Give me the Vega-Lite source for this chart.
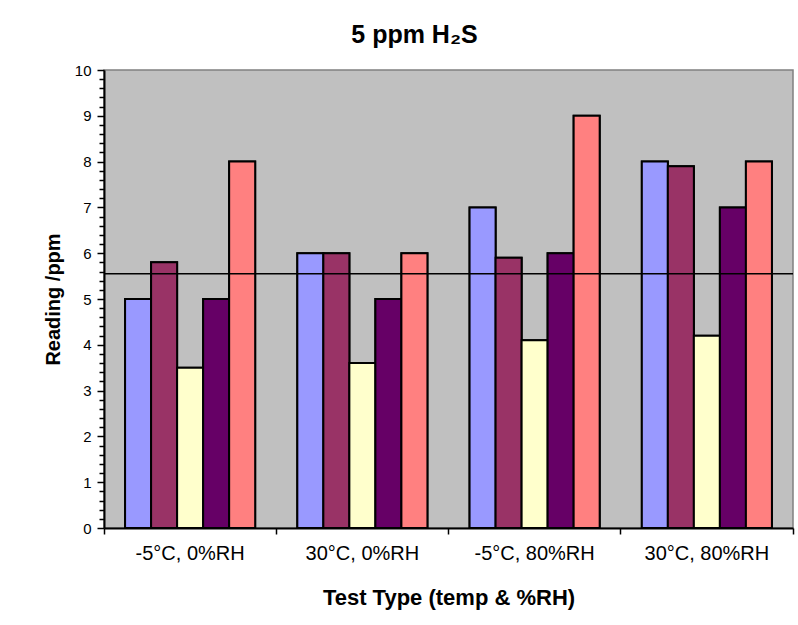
{
  "$schema": "https://vega.github.io/schema/vega-lite/v6.json",
  "width": 689,
  "height": 458,
  "autosize": "none",
  "padding": {"left": 104, "top": 70, "right": 5, "bottom": 97},
  "background": "white",
  "title": {
    "text": "5 ppm H₂S",
    "font": "Liberation Sans",
    "fontSize": 25,
    "fontWeight": "bold",
    "color": "black",
    "anchor": "middle",
    "dx": -34,
    "offset": 15
  },
  "config": {
    "view": {"fill": "#C0C0C0", "stroke": "#808080", "strokeWidth": 1.5},
    "font": "Liberation Sans"
  },
  "data": {
    "values": [
      {"test": "-5°C, 0%RH", "series": "S1", "reading": 5},
      {"test": "-5°C, 0%RH", "series": "S2", "reading": 5.8},
      {"test": "-5°C, 0%RH", "series": "S3", "reading": 3.5},
      {"test": "-5°C, 0%RH", "series": "S4", "reading": 5},
      {"test": "-5°C, 0%RH", "series": "S5", "reading": 8},
      {"test": "30°C, 0%RH", "series": "S1", "reading": 6},
      {"test": "30°C, 0%RH", "series": "S2", "reading": 6},
      {"test": "30°C, 0%RH", "series": "S3", "reading": 3.6},
      {"test": "30°C, 0%RH", "series": "S4", "reading": 5},
      {"test": "30°C, 0%RH", "series": "S5", "reading": 6},
      {"test": "-5°C, 80%RH", "series": "S1", "reading": 7},
      {"test": "-5°C, 80%RH", "series": "S2", "reading": 5.9},
      {"test": "-5°C, 80%RH", "series": "S3", "reading": 4.1},
      {"test": "-5°C, 80%RH", "series": "S4", "reading": 6},
      {"test": "-5°C, 80%RH", "series": "S5", "reading": 9},
      {"test": "30°C, 80%RH", "series": "S1", "reading": 8},
      {"test": "30°C, 80%RH", "series": "S2", "reading": 7.9},
      {"test": "30°C, 80%RH", "series": "S3", "reading": 4.2},
      {"test": "30°C, 80%RH", "series": "S4", "reading": 7},
      {"test": "30°C, 80%RH", "series": "S5", "reading": 8}
    ]
  },
  "encoding": {
    "x": {
      "field": "test",
      "type": "nominal",
      "sort": ["-5°C, 0%RH", "30°C, 0%RH", "-5°C, 80%RH", "30°C, 80%RH"],
      "scale": {"paddingInner": 0, "paddingOuter": 0}
    },
    "xOffset": {
      "field": "series",
      "type": "nominal",
      "scale": {"paddingInner": 0, "paddingOuter": 0.81}
    },
    "color": {
      "field": "series",
      "type": "nominal",
      "scale": {"domain": ["S1", "S2", "S3", "S4", "S5"], "range": ["#9999FF", "#993366", "#FFFFCC", "#660066", "#FF8080"]},
      "legend": null
    }
  },
  "layer": [
    {
      "mark": {"type": "bar", "stroke": "black", "strokeWidth": 2},
      "encoding": {
        "x": {
          "field": "test",
          "type": "nominal",
          "sort": ["-5°C, 0%RH", "30°C, 0%RH", "-5°C, 80%RH", "30°C, 80%RH"],
          "scale": {"paddingInner": 0, "paddingOuter": 0},
          "axis": {
            "title": "Test Type (temp & %RH)",
            "titleFont": "Liberation Sans",
            "titleFontSize": 22,
            "titleFontWeight": "bold",
            "titleColor": "black",
            "titlePadding": 24,
            "labelFont": "Liberation Sans",
            "labelFontSize": 20,
            "labelColor": "black",
            "labelAngle": 0,
            "labelPadding": 9,
            "bandPosition": 1,
            "tickExtra": true,
            "ticks": true,
            "tickSize": 6,
            "tickColor": "black",
            "tickWidth": 1.5,
            "domainColor": "black",
            "domainWidth": 2,
            "grid": false
          }
        },
        "y": {
          "field": "reading",
          "type": "quantitative",
          "scale": {"domain": [0, 10], "nice": false},
          "axis": {
            "title": "Reading /ppm",
            "titleFont": "Liberation Sans",
            "titleFontSize": 20,
            "titleFontWeight": "bold",
            "titleColor": "black",
            "titlePadding": 11,
            "labelFont": "Liberation Sans",
            "labelFontSize": 15,
            "labelColor": "black",
            "labelPadding": 6,
            "labelOverlap": false,
            "values": [0, 1, 2, 3, 4, 5, 6, 7, 8, 9, 10],
            "ticks": true,
            "tickSize": 7,
            "tickColor": "black",
            "tickWidth": 1.5,
            "domainColor": "black",
            "domainWidth": 2,
            "grid": false
          }
        }
      }
    },
    {
      "mark": {"type": "bar", "stroke": "black", "strokeWidth": 2},
      "encoding": {
        "y": {
          "field": "reading",
          "type": "quantitative",
          "scale": {"domain": [0, 10], "nice": false},
          "axis": {
            "orient": "left",
            "title": null,
            "labels": false,
            "domain": false,
            "grid": false,
            "values": [0.2, 0.4, 0.6, 0.8, 1.2, 1.4, 1.6, 1.8, 2.2, 2.4, 2.6, 2.8, 3.2, 3.4, 3.6, 3.8, 4.2, 4.4, 4.6, 4.8, 5.2, 5.4, 5.6, 5.8, 6.2, 6.4, 6.6, 6.8, 7.2, 7.4, 7.6, 7.8, 8.2, 8.4, 8.6, 8.8, 9.2, 9.4, 9.6, 9.8],
            "ticks": true,
            "tickSize": 5,
            "tickColor": "black",
            "tickWidth": 1.5
          }
        }
      }
    },
    {
      "data": {"values": [{"target": 5.55}]},
      "mark": {"type": "rule", "color": "black", "strokeWidth": 1.5},
      "encoding": {
        "x": null,
        "xOffset": null,
        "color": null,
        "y": {"field": "target", "type": "quantitative", "axis": null}
      }
    }
  ],
  "resolve": {"axis": {"y": "independent"}}
}
